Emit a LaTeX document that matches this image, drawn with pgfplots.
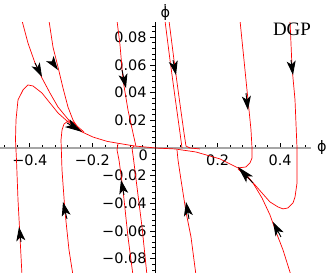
\documentclass[border=0pt]{standalone}
\usepackage{fontspec}
\setmainfont{DejaVu Sans}
\newfontfamily\serifdgp{Liberation Serif}
\usepackage{pgfplots}
\pgfplotsset{compat=1.18}
\usetikzlibrary{arrows.meta}
\pgfplotsset{
  traj/.style={red, line width=0.7bp, no markers},
  arr/.style={black, line width=0.9bp, no markers, -{Stealth[length=14bp,width=9bp,inset=3.5bp]}},
  bigarr/.style={black, line width=0.9bp, no markers, -{Stealth[length=17bp,width=9bp,inset=4bp]}},
}
\begin{document}
\begin{tikzpicture}
\useasboundingbox (0,0) rectangle (327bp,273bp);
\begin{axis}[
  at={(0,0)}, anchor=south west,
  scale only axis, width=311bp, height=251bp,
  xmin=-0.4952, xmax=0.4984, ymin=-0.0903, ymax=0.0910,
  axis lines=middle,
  axis line style={-},
  x axis line style={black!35, line width=1.2bp},
  y axis line style={black, line width=0.8bp},
  scaled x ticks=false, scaled y ticks=false,
  xtick={-0.4,-0.2,0,0.2,0.4},
  xticklabels={−0.4,−0.2,,0.2,0.4},
  ytick={-0.08,-0.06,-0.04,-0.02,0,0.02,0.04,0.06,0.08},
  yticklabels={−0.08,−0.06,−0.04,−0.02,,0.02,0.04,0.06,0.08},
  minor xtick={-0.48,-0.44,-0.36,-0.32,-0.28,-0.24,-0.16,-0.12,-0.08,-0.04,0.04,0.08,0.12,0.16,0.24,0.28,0.32,0.36,0.44,0.48},
  minor ytick={-0.088,-0.084,-0.076,-0.072,-0.068,-0.064,-0.056,-0.052,-0.048,-0.044,-0.036,-0.032,-0.028,-0.024,-0.016,-0.012,-0.008,-0.004,0.004,0.008,0.012,0.016,0.024,0.028,0.032,0.036,0.044,0.048,0.052,0.056,0.064,0.068,0.072,0.076,0.084,0.088},
  xtick align=inside, ytick align=outside,
  major tick length=5bp, minor tick length=3bp,
  tick style={black, line width=0.6bp},
  ticklabel style={font=\fontsize{14.5}{15}\selectfont},
  x tick label style={yshift=-3bp},
  clip mode=individual,
]
% left side
\addplot[traj] coordinates {(-0.4249,0.092) (-0.4058,0.0758) (-0.3834,0.0614) (-0.3610,0.0505) (-0.3355,0.0397) (-0.3099,0.0296) (-0.2812,0.0217) (-0.2620,0.0166) (-0.2332,0.0116)};
\addplot[traj] coordinates {(-0.3387,0.092) (-0.3259,0.0729) (-0.3099,0.0585) (-0.2939,0.0433) (-0.2780,0.0296) (-0.2620,0.0202) (-0.2460,0.0144) (-0.2332,0.0116)};
\addplot[traj] coordinates {(-0.4249,-0.092) (-0.4313,-0.0643) (-0.4377,-0.0375) (-0.4425,-0.0087) (-0.4457,0.0058) (-0.4441,0.0202) (-0.4377,0.0347) (-0.4217,0.0419) (-0.4058,0.0455) (-0.3898,0.0448) (-0.3610,0.0397) (-0.3355,0.0325) (-0.3099,0.0253) (-0.2812,0.0195) (-0.2556,0.0152) (-0.2332,0.0116)};
\addplot[traj] coordinates {(-0.2620,-0.092) (-0.2748,-0.0736) (-0.2875,-0.0462) (-0.2971,-0.0159) (-0.3003,0.0058) (-0.2971,0.0130) (-0.2907,0.0173) (-0.2780,0.0195) (-0.2620,0.0188) (-0.2460,0.0152) (-0.2268,0.0116)};
\addplot[traj] coordinates {(-0.2332,0.0116) (-0.1981,0.0079) (-0.1534,0.0048) (-0.1182,0.0034) (-0.0639,0.0014) (-0.0160,0.0004) (0,0)};
% centre
\addplot[traj] coordinates {(-0.1214,0.092) (-0.1118,0.0744) (-0.1022,0.0491) (-0.0863,0.0274) (-0.0703,0.0108) (-0.0639,0.0043) (-0.0607,0.0012)};
\addplot[traj] coordinates {(-0.0703,-0.092) (-0.0863,-0.0643) (-0.1022,-0.0303) (-0.1150,-0.0087) (-0.1214,-0.0014) (-0.1182,0.0030)};
\addplot[traj] coordinates {(-0.0256,-0.092) (-0.0415,-0.0570) (-0.0575,-0.0282) (-0.0703,-0.0051) (-0.0735,0) (-0.0671,0.0013)};
% right side
\addplot[traj] coordinates {(0.0319,0.092) (0.0479,0.0635) (0.0639,0.0368) (0.0799,0.0108) (0.0863,0)};
\addplot[traj] coordinates {(0.0447,0.092) (0.0607,0.0635) (0.0767,0.0368) (0.0927,0.0108) (0.0990,0.0014) (0.1118,0) (0.1438,-0.0007)};
\addplot[traj] coordinates {(0.1310,-0.092) (0.1150,-0.0643) (0.0990,-0.0462) (0.0831,-0.0231) (0.0735,-0.0087) (0.0703,-0.0014)};
\addplot[traj] coordinates {(0,0) (0.0639,-0.0007) (0.1310,-0.0029) (0.2077,-0.0079) (0.2652,-0.0144) (0.2875,-0.0181)};
\addplot[traj] coordinates {(0.2875,-0.0181) (0.3131,-0.0253) (0.3419,-0.0361) (0.3674,-0.0484) (0.3866,-0.0606) (0.4089,-0.0736) (0.4345,-0.092)};
\addplot[traj] coordinates {(0.4313,0.092) (0.4377,0.0585) (0.4473,0.0347) (0.4537,0) (0.4537,-0.0253) (0.4473,-0.0354) (0.4409,-0.0397) (0.4249,-0.0433) (0.4089,-0.0440) (0.3930,-0.0426) (0.3674,-0.0390) (0.3419,-0.0325) (0.3195,-0.0267) (0.2875,-0.0195) (0.2652,-0.0152)};
\addplot[traj] coordinates {(0.2716,0.092) (0.2843,0.0635) (0.2971,0.0347) (0.3067,0.0130) (0.3099,0) (0.3099,-0.0072) (0.3035,-0.0108) (0.2907,-0.0137) (0.2652,-0.0144)};
% arrows
\addplot[arr] coordinates {(-0.3834,0.0614) (-0.3610,0.0513)};
\addplot[arr] coordinates {(-0.3259,0.0614) (-0.3099,0.0563)};
\addplot[bigarr] coordinates {(-0.2812,0.0181) (-0.2332,0.0116)};
\addplot[arr] coordinates {(-0.4281,-0.0679) (-0.4345,-0.0570)};
\addplot[arr] coordinates {(-0.2812,-0.0513) (-0.2939,-0.0390)};
\addplot[arr] coordinates {(-0.1054,0.0563) (-0.0927,0.0433)};
\addplot[arr] coordinates {(-0.0990,-0.0339) (-0.1086,-0.0231)};
\addplot[arr] coordinates {(0.0575,0.0635) (0.0671,0.0527)};
\addplot[arr] coordinates {(0.2907,0.0397) (0.2971,0.0274)};
\addplot[arr] coordinates {(0.4345,0.0635) (0.4409,0.0527)};
\addplot[arr] coordinates {(0.1086,-0.0513) (0.0990,-0.0390)};
\addplot[bigarr] coordinates {(0.3131,-0.0253) (0.2652,-0.0137)};
\addplot[arr] coordinates {(0.4025,-0.0643) (0.3770,-0.0534)};
% labels
\node[anchor=north, inner sep=0pt, font=\fontsize{14.5}{15}\selectfont] at (axis cs:-0.038,-0.0012) {0};
\node[anchor=south, inner sep=0pt, yshift=1bp, font=\fontsize{14.5}{15}\selectfont] at (axis cs:0.033,0.0910) {\.{ϕ}};
\node[anchor=west, inner sep=0pt, xshift=6bp, font=\fontsize{14.5}{15}\selectfont] at (axis cs:0.4984,0) {ϕ};
\node[font=\serifdgp\fontsize{19}{19}\selectfont] at (axis cs:0.4377,0.0859) {DGP};
\end{axis}
\end{tikzpicture}
\end{document}
